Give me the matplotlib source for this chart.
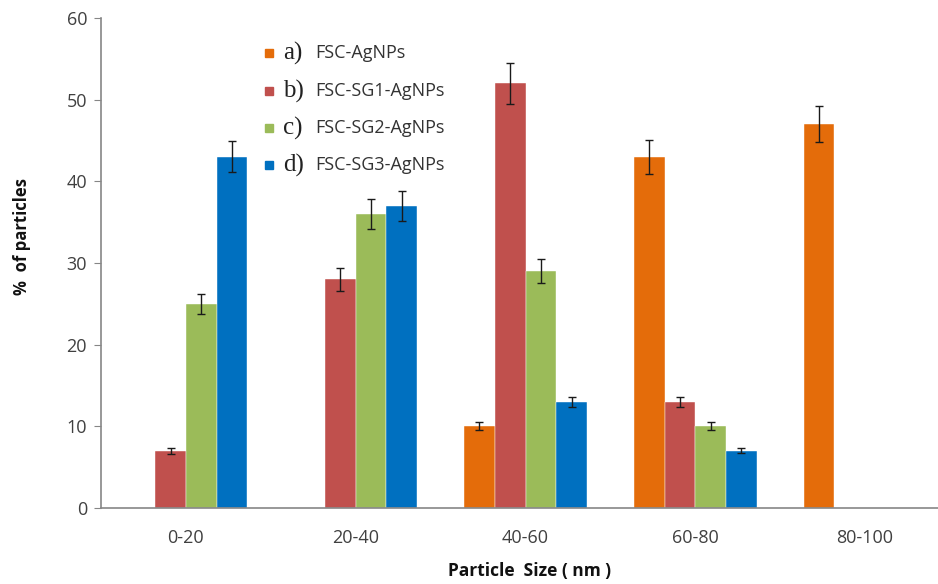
import matplotlib
matplotlib.use("Agg")
import matplotlib.pyplot as plt
import numpy as np

categories = ["0-20", "20-40", "40-60", "60-80", "80-100"]
series_letters = ["a)", "b)", "c)", "d)"]
series_names = ["FSC-AgNPs", "FSC-SG1-AgNPs", "FSC-SG2-AgNPs", "FSC-SG3-AgNPs"]
fsc = [0, 0, 10, 43, 47]
fsc_sg1 = [7, 28, 52, 13, 0]
fsc_sg2 = [25, 36, 29, 10, 0]
fsc_sg3 = [43, 37, 13, 7, 0]
fsc_err = [0, 0, 0.5, 2.1, 2.2]
fsc_sg1_err = [0.4, 1.4, 2.5, 0.6, 0]
fsc_sg2_err = [1.2, 1.8, 1.5, 0.5, 0]
fsc_sg3_err = [1.9, 1.8, 0.6, 0.3, 0]
colors = ["#E46C0A", "#C0504D", "#9BBB59", "#0070C0"]

values = [fsc, fsc_sg1, fsc_sg2, fsc_sg3]
errors = [fsc_err, fsc_sg1_err, fsc_sg2_err, fsc_sg3_err]

fig_w, fig_h = 938, 584
fig = plt.figure(figsize=(9.38, 5.84), dpi=100)
ax = fig.add_axes([101 / fig_w, 1 - 508 / fig_h, 849 / fig_w, 490 / fig_h])

x = np.arange(len(categories))
w = 0.181
for i, (v, e, c) in enumerate(zip(values, errors, colors)):
    pos = x + (i - 1.5) * w
    v = np.array(v, dtype=float)
    e = np.array(e, dtype=float)
    ax.bar(pos, v, width=w, color=c, edgecolor="white", linewidth=0.3, zorder=2)
    mask = v > 0
    ax.errorbar(pos[mask], v[mask], yerr=e[mask], fmt="none", ecolor="#1a1a1a",
                elinewidth=1.0, capsize=3, capthick=1.0, zorder=3)

ax.set_xlim(-0.5, len(categories) - 0.5)
ax.set_ylim(0, 60)
ax.set_yticks(range(0, 61, 10))
ax.set_xticks(x)
ax.set_xticklabels(categories)
for s in ["top", "right"]:
    ax.spines[s].set_visible(False)
for s in ["left", "bottom"]:
    ax.spines[s].set_color("#868686")
    ax.spines[s].set_linewidth(1.2)
ax.tick_params(axis="y", length=5, color="#868686", labelsize=13, labelcolor="#404040", pad=5)
ax.tick_params(axis="x", length=0, labelsize=13, labelcolor="#404040", pad=15)
for lbl in ax.get_xticklabels() + ax.get_yticklabels():
    lbl.set_family("Open Sans")

fig.text(22 / fig_w, 1 - 236 / fig_h, "%  of particles", rotation=90, ha="center", va="center",
         fontsize=12, fontweight="bold", family="Open Sans", color="#111111")
fig.text(530 / fig_w, 1 - 571 / fig_h, "Particle  Size ( nm )", ha="center", va="center",
         fontsize=12.5, fontweight="bold", family="Open Sans", color="#111111")

# legend (manual)
ys = [53, 91, 128, 165]
for letter, name, c, yp in zip(series_letters, series_names, colors, ys):
    yf = 1 - yp / fig_h
    fig.patches.append(plt.Rectangle((265 / fig_w, yf - 4 / fig_h), 8 / fig_w, 8 / fig_h,
                                     transform=fig.transFigure, color=c))
    fig.text(283 / fig_w, yf, letter, family="Liberation Serif", fontsize=18, va="center", color="#222222")
    fig.text(315 / fig_w, yf, name, family="Open Sans", fontsize=13, va="center", color="#333333")

fig.savefig("out.png", dpi=100)
